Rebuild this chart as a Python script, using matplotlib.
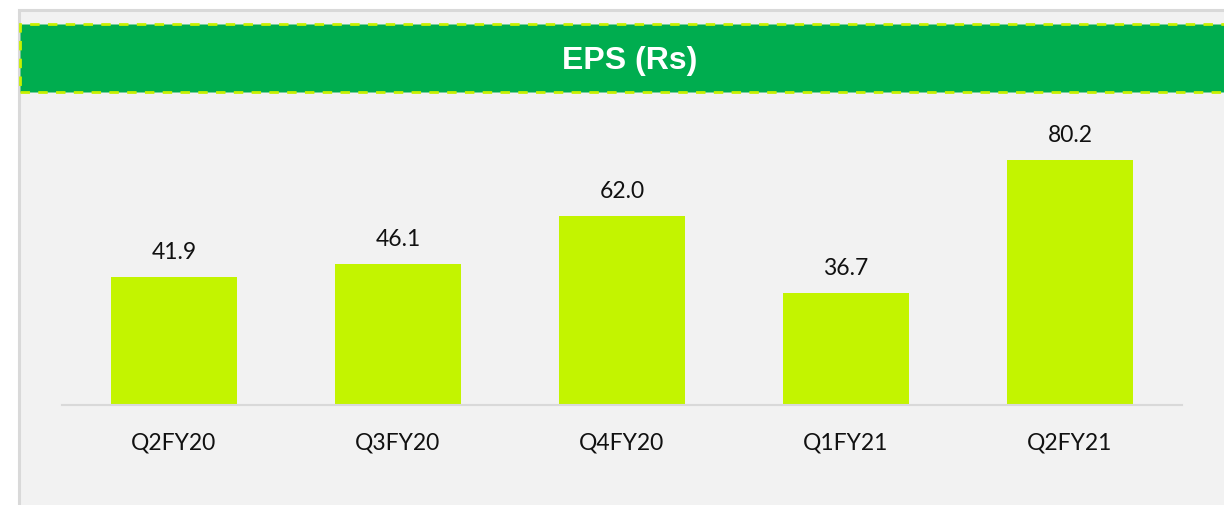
import matplotlib
matplotlib.use("Agg")
import matplotlib.pyplot as plt
from matplotlib.patches import Rectangle

quarters = ["Q2FY20", "Q3FY20", "Q4FY20", "Q1FY21", "Q2FY21"]
eps = [41.9, 46.1, 62.0, 36.7, 80.2]
title = "EPS (Rs)"

W, H = 1224, 505
BAR = "#c3f400"
GREEN = "#00ad4f"
PANEL = "#f2f2f2"
EDGE = "#d9d9d9"

plt.rcParams["font.family"] = ["Lato", "DejaVu Sans"]

fig = plt.figure(figsize=(W / 100, H / 100), dpi=100)
fig.patch.set_facecolor("white")


def px(x, y, w, h):
    # pixel box (top-left origin) -> figure fraction
    return (x / W, 1 - (y + h) / H), w / W, h / H


# grey panel behind everything
(x0, y0), w, h = px(19, 10, 1220, 510)
fig.add_artist(Rectangle((x0, y0), w, h, transform=fig.transFigure,
                         facecolor=PANEL, edgecolor=EDGE, linewidth=2.2, zorder=0))

# green title banner with dashed border
(x0, y0), w, h = px(19.5, 24.5, 1220, 68)
fig.add_artist(Rectangle((x0, y0), w, h, transform=fig.transFigure,
                         facecolor=GREEN, edgecolor="#c8f000", linewidth=2.0,
                         linestyle=(0, (3.4, 3.0)), zorder=1))
fig.text(630 / W, 1 - 61 / H, title, ha="center", va="center", color="white",
         fontsize=23, fontweight="bold", family=["Liberation Sans", "DejaVu Sans"], zorder=2)

(ax_x, ax_y), ax_w, ax_h = px(62, 99.5, 1120, 305.5)
ax = fig.add_axes([ax_x, ax_y, ax_w, ax_h])
ax.set_facecolor("none")

pos = range(len(quarters))
bars = ax.bar(pos, eps, width=0.5625, color=BAR, zorder=2)
for b, v in zip(bars, eps):
    ax.annotate(f"{v:.1f}", (b.get_x() + b.get_width() / 2, v),
                xytext=(0, 10), textcoords="offset points",
                ha="center", va="bottom", fontsize=16.5, color="#111111")

ax.set_xlim(-0.5, len(quarters) - 0.5)
ax.set_ylim(0, 100)
ax.set_xticks(list(pos))
ax.set_xticklabels(quarters, fontsize=16.5, color="#111111")
ax.tick_params(axis="x", length=0, pad=20)
ax.set_yticks([])
for s in ["top", "right", "left"]:
    ax.spines[s].set_visible(False)
ax.spines["bottom"].set_color(EDGE)
ax.spines["bottom"].set_linewidth(1.5)

fig.savefig("out.png", dpi=100)
